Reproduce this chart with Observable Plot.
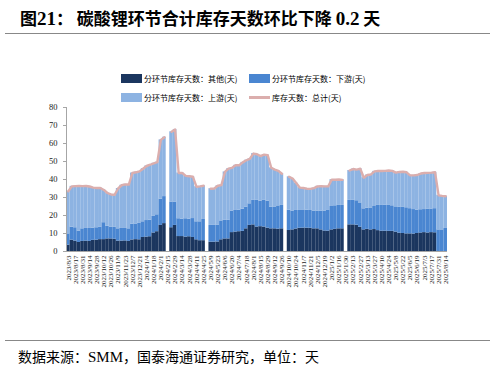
<!DOCTYPE html>
<html><head><meta charset="utf-8">
<script src="https://cdn.jsdelivr.net/npm/d3@7"></script>
<script src="https://cdn.jsdelivr.net/npm/@observablehq/plot@0.6"></script>
<style>
body{margin:0;background:#fff;}
#wrap{position:relative;width:495px;height:372px;overflow:hidden;font-family:"Noto Sans CJK SC",sans-serif;color:#000;}
.title{position:absolute;left:20px;top:5px;font-size:17px;font-weight:bold;white-space:nowrap;}
.title .num{font-family:"Liberation Serif",serif;font-size:19px;}
.rule{position:absolute;left:5px;width:485px;height:0;border-top:1.5px solid #888;}
.foot{position:absolute;left:18px;top:346px;font-size:14px;white-space:nowrap;}
.foot .lat{font-family:"Liberation Serif",serif;font-size:15px;}
.leg{position:absolute;font-size:8px;white-space:nowrap;display:flex;align-items:center;}
.sw{display:inline-block;width:21px;height:9px;margin-right:2px;}
.ln{display:inline-block;width:21px;height:3px;margin-right:2px;}
#chart{position:absolute;left:0;top:100px;}
</style></head>
<body><div id="wrap">
<div class="title">图<span class="num">21</span>：&nbsp;碳酸锂环节合计库存天数环比下降 <span class="num">0.2</span> 天</div>
<div class="rule" style="top:33px"></div>
<div id="legend"></div>
<div id="chart"></div>
<div class="rule" style="top:340px"></div>
<div class="foot">数据来源：<span class="lat">SMM</span>，国泰海通证券研究，单位：天</div>
</div>
<script>
const dates = [
"2023/8/3","2023/8/10","2023/8/17","2023/8/24","2023/8/31","2023/9/7","2023/9/14","2023/9/21","2023/9/28","2023/10/5",
"2023/10/12","2023/10/19","2023/10/26","2023/11/2","2023/11/9","2023/11/16","2023/11/23","2023/11/30","2023/12/7","2023/12/14",
"2023/12/21","2023/12/28","2024/1/4","2024/1/11","2024/1/18","2024/1/25","2024/2/1","2024/2/8","2024/2/15","2024/2/22",
"2024/2/29","2024/3/7","2024/3/14","2024/3/21","2024/3/28","2024/4/4","2024/4/11","2024/4/18","2024/4/25","2024/5/2",
"2024/5/9","2024/5/16","2024/5/23","2024/5/30","2024/6/6","2024/6/13","2024/6/20","2024/6/27","2024/7/4","2024/7/11",
"2024/7/18","2024/7/25","2024/8/1","2024/8/8","2024/8/15","2024/8/22","2024/8/29","2024/9/5","2024/9/12","2024/9/19",
"2024/9/26","2024/10/3","2024/10/10","2024/10/17","2024/10/24","2024/10/31","2024/11/7","2024/11/14","2024/11/21","2024/11/28",
"2024/12/5","2024/12/12","2024/12/19","2024/12/26","2025/1/2","2025/1/9","2025/1/16","2025/1/23","2025/1/30","2025/2/6",
"2025/2/13","2025/2/20","2025/2/27","2025/3/6","2025/3/13","2025/3/20","2025/3/27","2025/4/3","2025/4/10","2025/4/17",
"2025/4/24","2025/5/1","2025/5/8","2025/5/15","2025/5/22","2025/5/29","2025/6/5","2025/6/12","2025/6/19","2025/6/26",
"2025/7/3","2025/7/10","2025/7/17","2025/7/24","2025/7/31","2025/8/7","2025/8/14"];

const other = [
3.5,6.3,5.8,5.0,5.6,5.8,5.6,6.2,6.3,6.6,
6.6,7.0,7.0,6.8,5.8,5.8,5.9,5.6,6.4,6.6,
6.5,7.8,8.0,8.2,10.3,11.0,14.5,15.5,null,13.2,
14.5,8.3,8.3,8.0,8.2,7.8,6.5,6.0,6.0,null,
5.2,5.2,5.3,6.5,7.0,7.0,10.5,10.8,11.0,11.2,
12.6,14.5,14.8,13.6,13.8,13.6,13.0,12.6,12.6,12.4,
12.6,null,11.7,12.0,12.5,12.9,13.0,13.0,12.9,12.6,
12.6,12.0,11.4,11.3,12.0,12.3,12.6,12.6,null,14.8,
14.8,14.6,13.5,12.0,12.3,12.0,12.2,11.6,11.3,11.3,
11.2,11.2,10.8,10.2,10.0,9.8,9.8,9.7,10.0,10.3,
10.5,10.3,10.5,10.4,null,null,null];

const downstream = [
6.3,7.2,7.4,6.2,7.0,7.0,7.2,6.8,6.9,6.8,
9.4,7.0,6.6,6.6,6.8,7.0,6.9,7.0,8.8,8.7,
9.1,8.7,9.2,9.2,9.2,9.4,14.5,15.0,null,14.3,
13.0,9.9,9.7,10.2,9.8,10.5,10.0,10.5,11.8,null,
9.3,9.3,9.2,10.5,10.3,10.3,12.0,12.0,12.0,12.3,
12.1,12.0,13.6,14.8,14.2,14.8,15.0,12.1,11.9,12.6,
13.0,null,11.3,10.5,10.3,9.9,9.8,10.0,9.9,9.9,
9.9,10.3,11.1,11.5,13.0,13.1,13.0,13.0,null,13.6,
13.6,13.6,13.5,11.7,11.7,12.2,12.8,14.0,14.3,14.5,
14.4,14.2,14.0,14.5,14.5,14.5,14.0,13.6,13.0,12.9,
12.8,13.1,13.1,13.4,12.0,12.0,12.8];

const upstream = [
23.7,22.7,23.1,25.2,23.7,23.6,23.3,22.5,22.1,21.9,
18.2,18.5,18.1,18.1,22.4,24.0,24.5,24.6,28.4,28.7,
28.9,29.5,30.3,30.8,29.5,29.2,33.0,33.0,null,39.0,
40.3,25.4,25.6,23.8,23.8,23.2,19.5,19.7,18.7,null,
20.4,20.5,22.0,19.9,26.9,28.7,24.0,25.1,24.9,26.0,
26.0,25.0,26.0,25.6,25.0,25.4,25.5,21.8,21.0,19.8,
17.6,null,18.5,18.0,15.2,12.7,12.5,11.9,12.0,12.7,
13.7,14.0,13.7,13.4,14.9,14.5,14.4,14.2,null,16.6,
17.4,17.3,19.0,17.3,18.5,18.6,19.5,19.1,19.1,19.0,
19.4,19.4,19.0,19.5,19.8,19.7,18.5,19.0,19.5,20.1,
20.3,20.3,20.2,20.2,19.2,18.9,17.9];

const total = [
33.5,36.2,36.3,36.4,36.3,36.4,36.1,35.5,35.3,35.3,
34.2,32.5,31.7,31.5,35.0,36.8,37.3,37.2,43.6,44.0,
44.5,46.0,47.5,48.2,49.0,49.6,62.0,63.5,null,66.5,
67.8,43.6,43.6,42.0,41.8,41.5,36.0,36.2,36.5,null,
34.9,35.0,36.5,36.9,44.2,46.0,46.5,47.9,47.9,49.5,
50.7,51.5,54.4,54.0,53.0,53.8,53.5,46.5,45.5,44.8,
43.2,null,41.5,40.5,38.0,35.5,35.3,34.9,34.8,35.2,
36.2,36.3,36.2,36.2,39.9,39.9,40.0,39.8,null,45.0,
45.8,45.5,46.0,41.0,42.5,42.8,44.5,44.7,44.7,44.8,
45.0,44.8,43.8,44.2,44.3,44.0,42.3,42.3,42.5,43.3,
43.6,43.7,43.8,44.0,31.2,30.9,30.7];

const tickLabels = dates.filter((d, i) => i % 2 === 0);
const yTicks = [0,10,20,30,40,50,60,70,80];

const seriesNames = ["分环节库存天数：其他(天)","分环节库存天数：下游(天)","分环节库存天数：上游(天)"];
const totalName = "库存天数：总计(天)";
const seriesColors = ["#1b365f","#4a86d1","#8db3e2"];
const lineColor = "#dbaead";

const seriesArrays = [other, downstream, upstream];
const rows = [];
dates.forEach((d, i) => {
  seriesArrays.forEach((arr, k) => {
    if (arr[i] != null) rows.push({date: d, series: seriesNames[k], value: arr[i]});
  });
});
const lineRows = dates.map((d, i) => ({date: d, total: total[i]}));

const chart = Plot.plot({
  width: 495, height: 230,
  marginTop: 7, marginBottom: 79, marginLeft: 66, marginRight: 48,
  style: {background: "transparent", fontFamily: "'Liberation Serif', serif"},
  x: {type: "band", domain: dates, padding: 0, axis: null},
  y: {domain: [0, 80], axis: null},
  color: {domain: seriesNames, range: seriesColors},
  marks: [
    Plot.barY(rows, Plot.stackY({x: "date", y: "value", fill: "series", order: seriesNames})),
    Plot.line(lineRows, {x: "date", y: "total", stroke: lineColor, strokeWidth: 2.4, strokeLinejoin: "round"}),
    Plot.ruleY([0], {stroke: "#a6a6a6", strokeWidth: 1}),
    Plot.frame({anchor: "left", stroke: "#a6a6a6"}),
    Plot.axisY({ticks: yTicks, tickSize: 3, tickPadding: 6, fontSize: 8.5, stroke: "#a6a6a6", label: null, fill: "#222"}),
    Plot.axisX({ticks: tickLabels, tickRotate: -90, tickSize: 0, tickPadding: 4, fontSize: 7, label: null, fill: "#222"})
  ]
});
document.getElementById("chart").appendChild(chart);

// legend
const legend = document.getElementById("legend");
const items = [
  {name: seriesNames[0], color: seriesColors[0], kind: "sw", left: 121, top: 73},
  {name: seriesNames[1], color: seriesColors[1], kind: "sw", left: 249, top: 73},
  {name: seriesNames[2], color: seriesColors[2], kind: "sw", left: 121, top: 92},
  {name: totalName, color: lineColor, kind: "ln", left: 249, top: 92}
];
items.forEach(it => {
  const el = document.createElement("div");
  el.className = "leg";
  el.style.left = it.left + "px";
  el.style.top = it.top + "px";
  el.innerHTML = `<span class="${it.kind}" style="background:${it.color}"></span><span>${it.name}</span>`;
  legend.appendChild(el);
});
</script>
</body></html>
